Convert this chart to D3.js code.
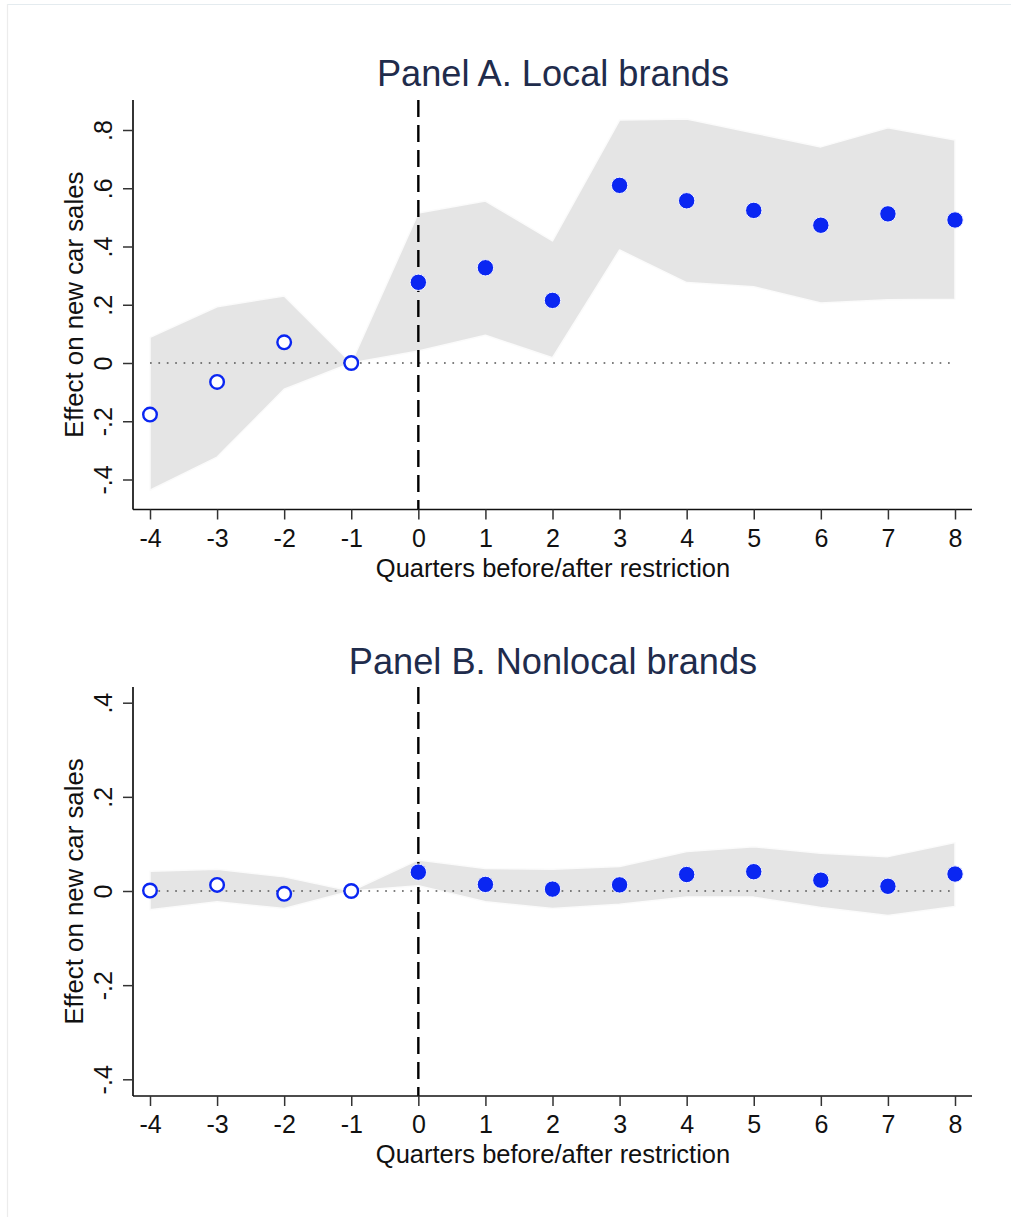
<!DOCTYPE html>
<html>
<head>
<meta charset="utf-8">
<script src="https://cdn.jsdelivr.net/npm/d3@7"></script>
<style>
  html, body { margin: 0; padding: 0; background: #fff; }
  svg { display: block; }
  text { font-family: "Liberation Sans", Arial, Helvetica, sans-serif; }
</style>
</head>
<body>
<svg id="chart" width="1011" height="1217"></svg>
<script>
// ---- data ----
const quarters = [-4, -3, -2, -1, 0, 1, 2, 3, 4, 5, 6, 7, 8];
const xTickLabels = ["-4", "-3", "-2", "-1", "0", "1", "2", "3", "4", "5", "6", "7", "8"];

const localEst   = [-0.177, -0.065, 0.071, 0.0, 0.277, 0.327, 0.215, 0.610, 0.557, 0.524, 0.473, 0.512, 0.491];
const localUpper = [0.088, 0.193, 0.230, 0.0, 0.515, 0.556, 0.419, 0.834, 0.838, 0.790, 0.742, 0.808, 0.766];
const localLower = [-0.437, -0.323, -0.090, 0.0, 0.041, 0.095, 0.018, 0.388, 0.276, 0.262, 0.206, 0.217, 0.219];

const nonlocalEst   = [0.001, 0.013, -0.006, 0.0, 0.040, 0.014, 0.004, 0.013, 0.035, 0.041, 0.023, 0.010, 0.036];
const nonlocalUpper = [0.042, 0.046, 0.030, 0.0, 0.066, 0.048, 0.046, 0.052, 0.084, 0.094, 0.080, 0.073, 0.103];
const nonlocalLower = [-0.040, -0.023, -0.037, 0.0, 0.011, -0.023, -0.037, -0.028, -0.013, -0.013, -0.035, -0.052, -0.033];

const localYTicks = [-0.4, -0.2, 0, 0.2, 0.4, 0.6, 0.8];
const localYLabels = ["-.4", "-.2", "0", ".2", ".4", ".6", ".8"];
const nonlocalYTicks = [-0.4, -0.2, 0, 0.2, 0.4];
const nonlocalYLabels = ["-.4", "-.2", "0", ".2", ".4"];

const panelTitles = ["Panel A. Local brands", "Panel B. Nonlocal brands"];
const xTitle = "Quarters before/after restriction";
const yTitle = "Effect on new car sales";

// ---- drawing ----
const svg = d3.select("#chart");
const BLUE = "#0a26f2";

// faint outer frame
svg.append("line").attr("x1", 7).attr("x2", 1011).attr("y1", 4.5).attr("y2", 4.5)
  .attr("stroke", "#e4ebef").attr("stroke-width", 1.2);
svg.append("line").attr("x1", 7.5).attr("x2", 7.5).attr("y1", 4).attr("y2", 1217)
  .attr("stroke", "#ececec").attr("stroke-width", 1.2);

const x = d3.scaleLinear().domain([-4, 8]).range([150, 955]);

function panel(cfg) {
  const { top, bottom, y, est, upper, lower, yTicks, yLabels, title, titleY } = cfg;
  const g = svg.append("g");
  const left = 133, right = 972;

  // title
  g.append("text").attr("x", 553).attr("y", titleY)
    .attr("text-anchor", "middle").attr("font-size", 36.2).attr("fill", "#1f2c4c")
    .text(title);

  // band
  const area = d3.area()
    .x((d, i) => x(quarters[i]))
    .y0((d, i) => y(lower[i]))
    .y1((d, i) => y(upper[i]));
  g.append("path").datum(quarters).attr("d", area)
    .attr("fill", "#e5e5e5").attr("stroke", "#fbfbfb").attr("stroke-width", 1.5)
    .attr("stroke-linejoin", "round");

  // zero dotted line
  g.append("line").attr("x1", x(-4)).attr("x2", x(8)).attr("y1", y(0)).attr("y2", y(0))
    .attr("stroke", "#555").attr("stroke-width", 1.7).attr("stroke-dasharray", "1.7,6.7");

  // dashed vertical line at 0
  g.append("line").attr("x1", x(0)).attr("x2", x(0)).attr("y1", top).attr("y2", bottom)
    .attr("stroke", "#000").attr("stroke-width", 2.4).attr("stroke-dasharray", "17,8");

  // axes lines
  g.append("line").attr("x1", left).attr("x2", right).attr("y1", bottom).attr("y2", bottom)
    .attr("stroke", "#111").attr("stroke-width", 1.7);
  g.append("line").attr("x1", left).attr("x2", left).attr("y1", top).attr("y2", bottom)
    .attr("stroke", "#111").attr("stroke-width", 1.7);

  // x axis
  const xa = g.append("g").attr("transform", `translate(0,${bottom})`)
    .call(d3.axisBottom(x).tickValues(quarters).tickSize(10).tickPadding(9)
      .tickFormat((d, i) => xTickLabels[i]));
  xa.select(".domain").remove();
  xa.selectAll(".tick line").attr("stroke", "#333").attr("stroke-width", 1.5);
  xa.selectAll(".tick text").attr("font-size", 25).attr("fill", "#111")
    .attr("font-family", "Liberation Sans, Arial, sans-serif")
    .attr("y", 37).attr("dy", 0);

  // y axis
  const ya = g.append("g").attr("transform", `translate(${left},0)`)
    .call(d3.axisLeft(y).tickValues(yTicks).tickSize(10)
      .tickFormat((d, i) => yLabels[i]));
  ya.select(".domain").remove();
  ya.selectAll(".tick line").attr("stroke", "#333").attr("stroke-width", 1.5);
  ya.selectAll(".tick text").attr("font-size", 25).attr("fill", "#111")
    .attr("font-family", "Liberation Sans, Arial, sans-serif")
    .attr("x", 0).attr("dy", 0).attr("y", 0)
    .attr("text-anchor", "middle")
    .attr("transform", "translate(-21,0) rotate(-90)");

  // axis titles
  g.append("text").attr("x", 553).attr("y", bottom + 67)
    .attr("text-anchor", "middle").attr("font-size", 25.5).attr("fill", "#111")
    .text(xTitle);
  const cy = (top + bottom) / 2;
  g.append("text").attr("transform", `translate(83,${cy}) rotate(-90)`)
    .attr("text-anchor", "middle").attr("font-size", 25.8).attr("fill", "#111")
    .text(yTitle);

  // points
  const pts = quarters.map((q, i) => ({ q, v: est[i] }));
  g.selectAll("circle.pre").data(pts.filter(d => d.q < 0)).join("circle")
    .attr("class", "pre")
    .attr("cx", d => x(d.q)).attr("cy", d => y(d.v)).attr("r", 6.8)
    .attr("fill", "#fff").attr("stroke", BLUE).attr("stroke-width", 2.4);
  g.selectAll("circle.post").data(pts.filter(d => d.q >= 0)).join("circle")
    .attr("class", "post")
    .attr("cx", d => x(d.q)).attr("cy", d => y(d.v)).attr("r", 8.2)
    .attr("fill", BLUE).attr("stroke", "#f4f4ff").attr("stroke-width", 1);
}

panel({
  top: 100, bottom: 509.5,
  y: d3.scaleLinear().domain([-0.4, 0.8]).range([479.5, 130]),
  est: localEst, upper: localUpper, lower: localLower,
  yTicks: localYTicks, yLabels: localYLabels,
  title: panelTitles[0], titleY: 86
});

panel({
  top: 687, bottom: 1096,
  y: d3.scaleLinear().domain([-0.4, 0.4]).range([1079.3, 702.7]),
  est: nonlocalEst, upper: nonlocalUpper, lower: nonlocalLower,
  yTicks: nonlocalYTicks, yLabels: nonlocalYLabels,
  title: panelTitles[1], titleY: 674
});
</script>
</body>
</html>
